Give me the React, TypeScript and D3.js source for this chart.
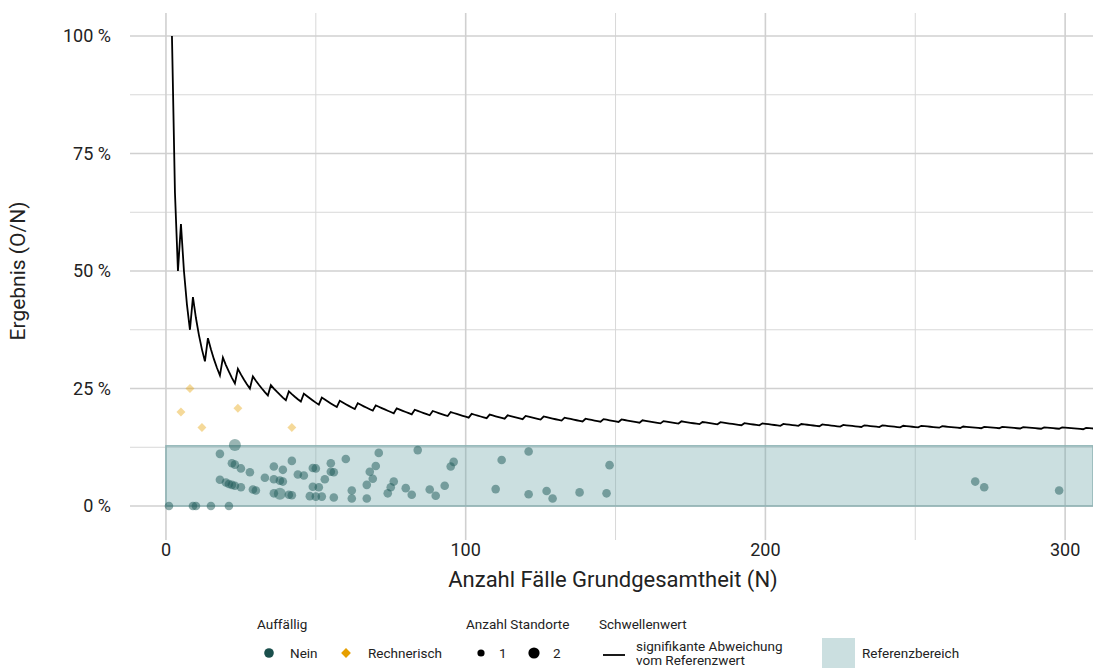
import React from "react";
import * as d3 from "d3";

// Schwellenwert: Zähler beginnt bei 2 (N = 2), steigt an diesen N um 1
const thresholdStartN = 2;
const thresholdStartK = 2;
const thresholdSteps = [5, 9, 14, 19, 24, 29, 35, 41, 46, 52, 58, 64, 70, 77, 83, 89, 95, 102, 108, 114, 120, 126, 133, 140, 146, 152, 159, 166, 172, 179, 185, 193, 199, 206, 212, 219, 226, 233, 239, 246, 252, 259, 266, 273, 279, 286, 293, 299, 307];
const thresholdEndN = 310;

const referenceRange = [0, 12.8];

// Auffällig: Nein (N, Ergebnis in %)
const neinN = [1, 9, 10, 15, 21, 18, 22, 23, 25, 28, 18, 20, 21, 22, 23, 25, 29, 30, 33, 36, 39, 42, 44, 36, 38, 39, 36, 41, 42, 46, 49, 50, 55, 55, 56, 53, 49, 51, 48, 50, 52, 56, 60, 62, 62, 67, 67, 68, 69, 70, 71, 74, 75, 76, 80, 82, 84, 88, 90, 93, 95, 96, 110, 112, 121, 121, 127, 129, 138, 147, 148, 270, 273, 298];
const neinValue = [0, 0, 0, 0, 0, 11.1, 9.1, 8.8, 8.0, 7.2, 5.6, 5.0, 4.7, 4.5, 4.3, 4.0, 3.5, 3.3, 6.0, 8.4, 7.7, 9.6, 6.7, 5.7, 5.4, 5.2, 2.7, 2.4, 2.3, 6.5, 8.1, 8.0, 9.1, 7.3, 7.2, 5.7, 4.1, 4.0, 2.1, 2.0, 2.0, 1.8, 10.0, 3.3, 1.6, 1.6, 4.5, 7.3, 5.8, 8.5, 11.3, 2.7, 4.0, 5.2, 3.8, 2.4, 11.9, 3.5, 2.2, 4.3, 8.4, 9.4, 3.6, 9.8, 11.6, 2.5, 3.2, 1.6, 2.9, 2.7, 8.7, 5.2, 4.0, 3.3];
// Anzahl Standorte = 2
const doubleN = [23, 38];
const doubleValue = [13.0, 2.6];

// Auffällig: Rechnerisch
const rechnerischN = [5, 8, 12, 24, 42];
const rechnerischValue = [20.0, 25.0, 16.7, 20.8, 16.7];

const yTicks = [0, 25, 50, 75, 100];
const yMinor = [12.5, 37.5, 62.5, 87.5];
const xTicks = [0, 100, 200, 300];
const xMinor = [50, 150, 250];

const W = 1093;
const H = 668;
const FONT = "Roboto, sans-serif";
const TEAL = "#1d5a57";
const ORANGE = "#e69f00";

export default function App() {
  const x = d3.scaleLinear().domain([-12, 309.3]).range([130, 1093]);
  const y = d3.scaleLinear().domain([-7.23, 104.9]).range([540, 13]);

  const threshold: [number, number][] = [];
  for (let n = thresholdStartN; n <= thresholdEndN; n++) {
    const k = thresholdStartK + thresholdSteps.filter((s) => s <= n).length;
    threshold.push([n, (k / n) * 100]);
  }
  const line = d3
    .line<[number, number]>()
    .x((d) => x(d[0]))
    .y((d) => y(d[1]));

  // rotated square = symmetric diamond
  const diamond = d3.symbol(d3.symbolSquare, 40)();
  const diamondLegend = d3.symbol(d3.symbolSquare, 48)();

  const plotLeft = x.range()[0];
  const plotRight = x.range()[1];
  const plotTop = y.range()[1];
  const plotBottom = y.range()[0];

  return (
    <svg
      width={W}
      height={H}
      style={{ position: "absolute", left: 0, top: 0, background: "#fff" }}
      fontFamily={FONT}
    >
      <defs>
        <clipPath id="plot">
          <rect x={plotLeft} y={plotTop} width={plotRight - plotLeft} height={plotBottom - plotTop} />
        </clipPath>
      </defs>

      {/* gridlines */}
      {yMinor.map((v) => (
        <line key={"ym" + v} x1={plotLeft} x2={plotRight} y1={y(v)} y2={y(v)} stroke="#d8d8d8" strokeWidth={1} />
      ))}
      {xMinor.map((v) => (
        <line key={"xm" + v} x1={x(v)} x2={x(v)} y1={plotTop} y2={plotBottom} stroke="#d8d8d8" strokeWidth={1} />
      ))}
      {yTicks.map((v) => (
        <line key={"y" + v} x1={plotLeft} x2={plotRight} y1={y(v)} y2={y(v)} stroke="#d0d0d0" strokeWidth={1.6} />
      ))}
      {xTicks.map((v) => (
        <line key={"x" + v} x1={x(v)} x2={x(v)} y1={plotTop} y2={plotBottom} stroke="#d0d0d0" strokeWidth={1.6} />
      ))}

      {/* Referenzbereich */}
      <rect
        x={x(0)}
        y={y(referenceRange[1])}
        width={plotRight - x(0)}
        height={y(referenceRange[0]) - y(referenceRange[1])}
        fill="#6fa6a9"
        fillOpacity={0.36}
        stroke="#8fb3b4"
        strokeWidth={1.5}
      />

      <g clipPath="url(#plot)">
        {rechnerischN.map((n, i) => (
          <path
            key={"r" + i}
            d={diamond}
            transform={`translate(${x(n)},${y(rechnerischValue[i])}) rotate(45)`}
            fill={ORANGE}
            fillOpacity={0.4}
          />
        ))}
        {neinN.map((n, i) => (
          <circle key={"n" + i} cx={x(n)} cy={y(neinValue[i])} r={4.3} fill={TEAL} fillOpacity={0.5} />
        ))}
        {doubleN.map((n, i) => (
          <circle key={"d" + i} cx={x(n)} cy={y(doubleValue[i])} r={6} fill={TEAL} fillOpacity={0.45} />
        ))}
        <path d={line(threshold) || ""} fill="none" stroke="#000" strokeWidth={1.8} />
      </g>

      {/* y axis */}
      {yTicks.map((v) => (
        <text key={"yt" + v} x={111} y={y(v)} dy="0.35em" textAnchor="end" fontSize={18} fill="#222">
          {`${v} %`}
        </text>
      ))}
      <text
        transform={`translate(25,${(y(0) + y(100)) / 2}) rotate(-90)`}
        textAnchor="middle"
        fontSize={21}
        fill="#222"
      >
        Ergebnis (O/N)
      </text>

      {/* x axis */}
      {xTicks.map((v) => (
        <text key={"xt" + v} x={x(v)} y={556} textAnchor="middle" fontSize={18} fill="#222">
          {v}
        </text>
      ))}
      <text x={613} y={587} textAnchor="middle" fontSize={22} fill="#222">
        Anzahl Fälle Grundgesamtheit (N)
      </text>

      {/* legend */}
      <g fontSize={13.5} fill="#222">
        <text x={257} y={629}>Auffällig</text>
        <circle cx={269} cy={653} r={4.8} fill="#1a4f4c" />
        <text x={290} y={658}>Nein</text>
        <path d={diamondLegend} transform="translate(346,653) rotate(45)" fill={ORANGE} />
        <text x={368} y={658}>Rechnerisch</text>

        <text x={466} y={629}>Anzahl Standorte</text>
        <circle cx={481} cy={653} r={3.6} fill="#000" />
        <text x={499} y={658}>1</text>
        <circle cx={534} cy={653} r={5.6} fill="#000" />
        <text x={553} y={658}>2</text>

        <text x={599} y={629}>Schwellenwert</text>
        <line x1={603} x2={625} y1={655} y2={655} stroke="#000" strokeWidth={1.8} />
        <text x={636} y={651}>signifikante Abweichung</text>
        <text x={636} y={665}>vom Referenzwert</text>

        <rect x={822} y={638} width={33} height={30} fill="#6fa6a9" fillOpacity={0.36} />
        <text x={862} y={658}>Referenzbereich</text>
      </g>
    </svg>
  );
}
